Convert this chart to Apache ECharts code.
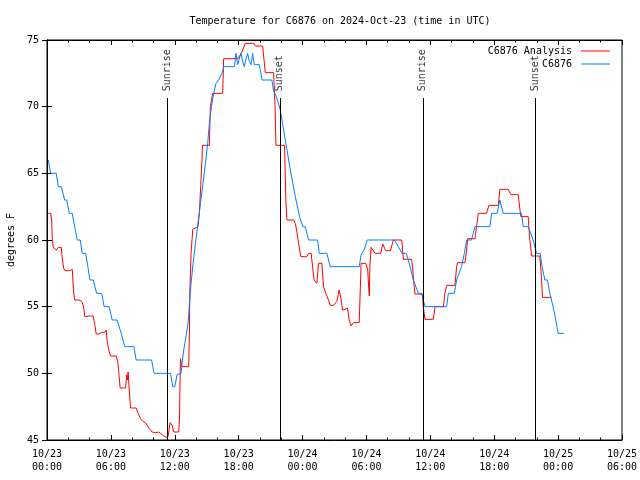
<!DOCTYPE html>
<html>
<head>
<meta charset="utf-8">
<script src="https://cdn.jsdelivr.net/npm/echarts@6/dist/echarts.min.js"></script>
<style>
html,body{margin:0;padding:0;background:#fff;}
#chart{width:640px;height:480px;}
</style>
</head>
<body>
<div id="chart"></div>
<script>
// Hours since 2024-10-23 00:00 UTC
var anaTimes = [0.12,0.35,0.44,0.47,0.5,0.59,0.87,1.06,1.34,1.44,1.56,1.69,2.13,2.28,2.37,2.5,2.6,3.0,3.25,3.4,3.56,3.68,3.87,4.34,4.5,4.62,4.87,5.09,5.41,5.56,5.65,5.81,5.97,6.5,6.66,6.75,6.87,7.38,7.5,7.56,7.62,7.72,7.85,8.37,8.56,8.78,9.0,9.25,9.56,9.87,10.19,10.5,10.66,10.97,11.18,11.37,11.56,11.75,11.9,12.37,12.44,12.53,12.61,12.68,13.31,13.38,13.41,13.53,13.69,14.18,14.31,14.44,14.56,14.6,15.25,15.34,15.56,16.5,16.59,17.93,18.31,18.62,19.41,19.56,20.25,20.5,21.28,21.42,21.5,22.31,22.43,22.53,23.16,23.32,23.47,23.62,23.84,24.4,24.56,24.81,24.94,25.09,25.34,25.5,25.81,25.97,26.18,26.44,26.6,26.91,27.22,27.44,27.63,27.75,28.0,28.22,28.38,28.56,28.78,29.32,29.5,29.94,30.12,30.22,30.27,30.32,30.44,30.81,31.34,31.53,31.81,32.25,32.53,33.31,33.47,34.25,34.41,34.5,34.56,35.25,35.34,35.5,36.28,36.44,37.22,37.38,37.53,38.31,38.47,38.56,39.25,39.41,39.5,40.19,40.34,40.5,41.28,41.5,42.38,42.53,43.31,43.56,44.25,44.5,45.19,45.33,45.47,45.52,46.28,46.44,46.53,47.37];
var anaValues = [62,62,61.5,60.7,60,59.45,59.25,59.45,59.45,58.6,57.9,57.7,57.7,57.8,57.8,56.1,55.5,55.5,55.4,55.1,54.25,54.15,54.3,54.3,53.6,52.95,52.95,53.07,53.07,53.25,52.4,51.7,51.3,51.3,50.8,50,48.9,48.9,49.9,49.5,50.1,48.75,47.4,47.4,47,46.6,46.4,46.3,45.9,45.6,45.55,45.6,45.6,45.3,45.2,45.25,46.3,46.1,45.6,45.6,46.5,51.1,51.1,50.5,50.5,53.25,56,59,60.8,61,62.05,64.1,66.1,67.1,67.1,70,71,71,73.6,73.6,74.1,74.75,74.75,74.55,74.55,72.55,72.55,70,67.1,67.1,63,61.5,61.5,61.25,60.6,59.75,58.75,58.75,59,59,58,57,56.75,58.25,58.25,56.5,56,55.5,55.1,55.1,55.4,56.25,55.5,54.75,54.8,54.9,54,53.55,53.8,53.8,58.25,58.25,57.75,56.3,55.8,58,59.45,59,59,59.7,59.2,59.2,60,60,58.55,58.55,57.25,56.4,55.95,55.95,55,54.05,54.05,55,55,56.05,56.6,56.6,58,58.3,58.3,59.25,60.1,60.1,61,62,62,62.6,62.6,63.8,63.8,63.4,63.4,61.75,61.75,60.1,60.1,58.8,58.8,57.25,55.7,55.7];

var obsTimes = [0.12,0.35,0.87,1.06,1.34,1.66,1.85,2.09,2.37,2.6,2.84,3.12,3.31,3.63,3.84,4.03,4.34,4.66,5.13,5.37,5.84,6.12,6.59,6.97,7.12,7.31,8.16,8.37,9.82,10.06,11.6,11.81,12.0,12.22,12.59,12.68,12.84,13.0,13.15,13.25,13.38,13.53,13.72,13.94,14.18,14.41,14.65,14.88,15.09,15.25,15.44,15.66,15.87,16.12,16.43,16.6,17.6,17.75,17.91,18.07,18.22,18.37,18.53,18.69,18.84,19.0,19.16,19.31,19.47,19.94,20.2,21.12,21.28,21.56,21.91,22.38,22.85,23.32,23.72,24.03,24.25,24.56,25.41,25.57,26.28,26.6,29.32,29.5,29.78,30.07,32.62,32.8,33.14,33.31,33.75,34.1,34.4,34.88,35.18,35.5,37.53,37.69,38.25,38.47,38.93,39.19,39.41,39.87,40.19,41.6,41.75,42.28,42.53,42.84,44.56,44.72,45.19,45.66,45.97,46.31,46.5,46.75,47.0,47.22,47.53,47.78,48.0,48.53];
var obsValues = [66,65,65,64,64,63,63,62,62,61,60,60,59,59,58,57,57,56,56,55,55,54,54,53,53,52,52,51,51,50,50,49,49,49.9,50,50.75,51.75,52.5,53.25,53.75,55.25,56.75,58.25,59.75,61.25,62.75,64.25,65.75,67.25,68.75,70,71,71.75,72,72.5,73,73,74,73.15,73.65,74,73.4,73,73.6,74,73.4,73.15,74,73.15,73.15,72,72,71.2,70.7,69.75,67.5,65.25,63.25,61.75,61,61,60,60,59,59,58,58,58.9,59.25,60,60,60,59.3,59,59,58,57,56,56,55,55,56,56,57,58,59,60,60,61,61,62,62,63,62,62,61,61,60,59,59,58,57,57,56,55,54,53,53];

var eventTimes = [11.3, 21.87, 35.3, 45.87];
var eventNames = ['Sunrise', 'Sunset', 'Sunrise', 'Sunset'];

var tickDays = ['10/23','10/23','10/23','10/23','10/24','10/24','10/24','10/24','10/25','10/25'];
var tickClock = ['00:00','06:00','12:00','18:00','00:00','06:00','12:00','18:00','00:00','06:00'];

var seriesNames = ['C6876 Analysis', 'C6876'];
var titleText = 'Temperature for C6876 on 2024-Oct-23 (time in UTC)';
var yName = 'degrees F';

function pairs(t, v) { return t.map(function (x, i) { return [x, v[i]]; }); }

var FONT = 'DejaVu Sans Mono';
var chart = echarts.init(document.getElementById('chart'), null, {renderer: 'canvas'});

var xCommon = {
  type: 'value', min: 0, max: 54, interval: 6,
  axisLine: {show: true, lineStyle: {color: '#000', width: 1}},
  axisTick: {show: true, inside: true, length: 5, lineStyle: {color: '#000'}},
  minorTick: {show: true, splitNumber: 3, length: 2.5, lineStyle: {color: '#000'}},
  splitLine: {show: false}
};
var yCommon = {
  type: 'value', min: 45, max: 75, interval: 5,
  axisLine: {show: true, lineStyle: {color: '#000', width: 1}},
  axisTick: {show: true, inside: true, length: 5, lineStyle: {color: '#000'}},
  splitLine: {show: false}
};

var option = {
  animation: false,
  backgroundColor: '#fff',
  title: {
    text: titleText, left: 335, top: 11, textAlign: 'center',
    textStyle: {fontFamily: FONT, fontSize: 10, fontWeight: 'normal', color: '#000'}
  },
  legend: [
    {data: [seriesNames[0]], right: 30, top: 46, align: 'right', orient: 'vertical', padding: 0,
     icon: 'rect', itemWidth: 29, itemHeight: 1,
     textStyle: {fontFamily: FONT, fontSize: 10, color: '#000', padding: [0, 4, 0, 0]}},
    {data: [seriesNames[1]], right: 30, top: 59, align: 'right', orient: 'vertical', padding: 0,
     icon: 'rect', itemWidth: 29, itemHeight: 1,
     textStyle: {fontFamily: FONT, fontSize: 10, color: '#000', padding: [0, 4, 0, 0]}}
  ],
  grid: {left: 47, right: 18, top: 40, bottom: 40, containLabel: false, outerBoundsMode: 'none',
         show: true, borderColor: '#000', borderWidth: 1, backgroundColor: 'transparent'},
  xAxis: [
    Object.assign({}, xCommon, {
      position: 'bottom',
      axisLabel: {
        show: true, margin: 8, color: '#000', fontFamily: FONT, fontSize: 10, lineHeight: 13,
        showMinLabel: true, showMaxLabel: true,
        formatter: function (v) { var i = Math.round(v / 6); return tickDays[i] + '\n' + tickClock[i]; }
      }
    }),
    Object.assign({}, xCommon, {position: 'top', axisLabel: {show: false}})
  ],
  yAxis: [
    Object.assign({}, yCommon, {
      position: 'left',
      name: yName, nameLocation: 'middle', nameGap: 31, nameRotate: 90,
      nameTextStyle: {fontFamily: FONT, fontSize: 10, color: '#000'},
      axisLabel: {show: true, margin: 8, color: '#000', fontFamily: FONT, fontSize: 10}
    }),
    Object.assign({}, yCommon, {position: 'right', axisLabel: {show: false}})
  ],
  series: [
    {
      name: 'events', type: 'scatter', xAxisIndex: 0, yAxisIndex: 0,
      symbol: 'circle', symbolSize: 1, itemStyle: {color: 'rgba(0,0,0,0)'},
      silent: true,
      data: eventTimes.map(function (t, i) { return {name: eventNames[i], value: [t, 71.15]}; }),
      label: {
        show: true, position: 'inside', align: 'left', verticalAlign: 'middle', rotate: 90,
        formatter: function (p) { return p.name; },
        fontFamily: FONT, fontSize: 10, color: '#000'
      },
      markLine: {
        silent: true, symbol: ['none', 'none'], animation: false,
        label: {show: false},
        lineStyle: {color: '#000', width: 1, type: 'solid'},
        emphasis: {disabled: true},
        data: eventTimes.map(function (t) { return [{coord: [t, 45]}, {coord: [t, 70.65]}]; })
      }
    },
    {
      name: seriesNames[0], type: 'line', xAxisIndex: 0, yAxisIndex: 0,
      showSymbol: false, symbol: 'none', color: '#ff0000',
      lineStyle: {color: '#ff0000', width: 1},
      data: pairs(anaTimes, anaValues)
    },
    {
      name: seriesNames[1], type: 'line', xAxisIndex: 0, yAxisIndex: 0,
      showSymbol: false, symbol: 'none', color: '#0080ff',
      lineStyle: {color: '#0080ff', width: 1},
      data: pairs(obsTimes, obsValues)
    }
  ]
};
chart.setOption(option);
</script>
</body>
</html>
